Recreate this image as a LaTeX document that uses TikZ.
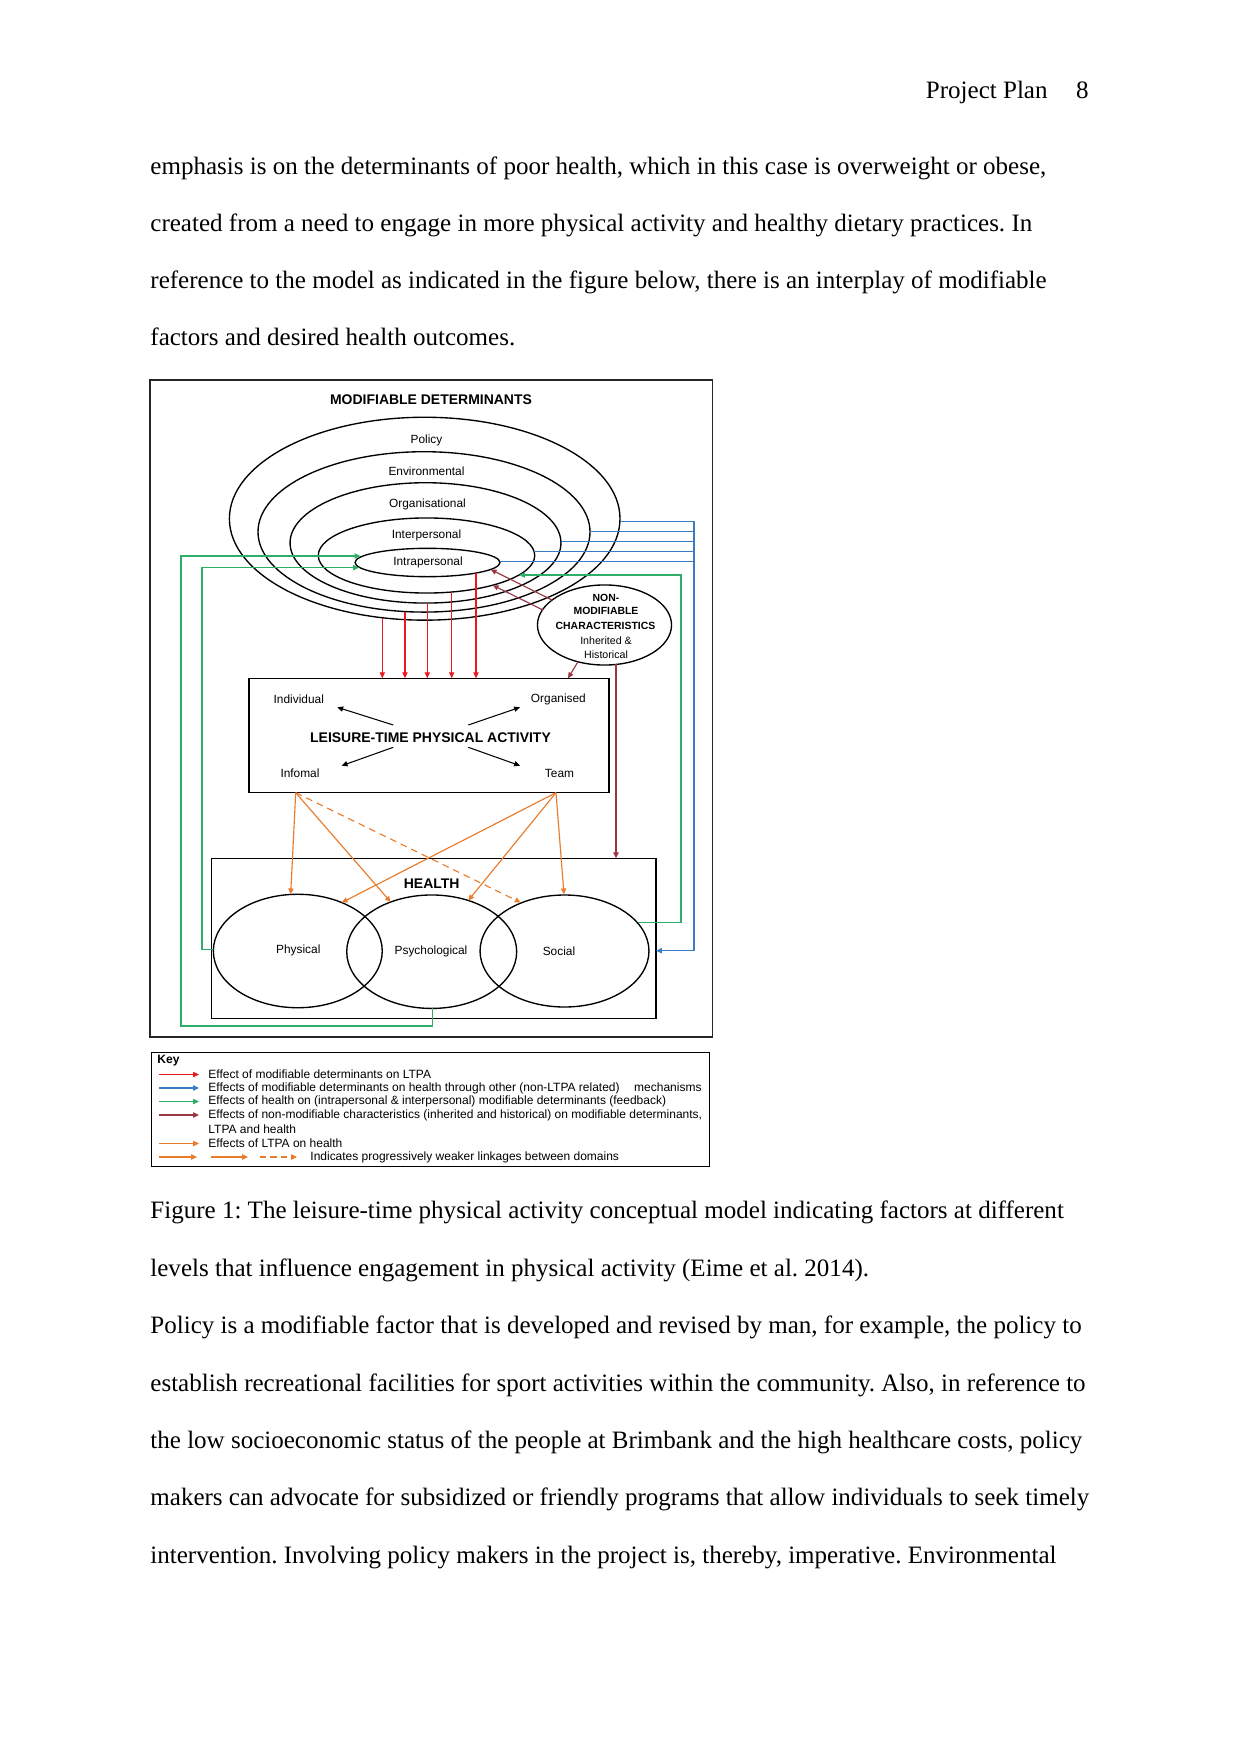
\documentclass[tikz,border=0pt]{standalone}
\usepackage{fontspec}
\setmainfont{Liberation Serif}
\newfontfamily\arial{Liberation Sans}
\usetikzlibrary{arrows.meta,shapes.geometric}
\definecolor{cred}{HTML}{E8191F}
\definecolor{cblue}{HTML}{3B7DC4}
\definecolor{cgreen}{HTML}{2EAE66}
\definecolor{cmaroon}{HTML}{993844}
\definecolor{corange}{HTML}{E97B2A}
\frenchspacing
\begin{document}
\begin{tikzpicture}[x=0.4795pt,y=-0.4795pt,
  bodytext/.style={anchor=base west,inner sep=0,font=\fontsize{12}{14}\selectfont},
  lbl/.style={inner sep=0,font=\arial\fontsize{5.7}{6.8}\selectfont},
  slbl/.style={inner sep=0,font=\arial\fontsize{5.1}{6}\selectfont},
  sblbl/.style={inner sep=0,font=\arial\bfseries\fontsize{5.0}{6}\selectfont},
  blbl/.style={inner sep=0,font=\arial\bfseries\fontsize{6.7}{8}\selectfont},
  keytext/.style={anchor=west,inner sep=0,font=\arial\fontsize{5.75}{6.5}\selectfont},
  ell/.style={draw=black,ellipse,inner sep=0,outer sep=0,line width=0.65pt},
  bx/.style={draw=black,rectangle,inner sep=0,outer sep=0,line width=0.7pt},
  tip/.style={-{Triangle[length=2.8pt,width=2.5pt]}},
  redarr/.style={tip,draw=cred,line width=0.5pt},
  bluearr/.style={draw=cblue,line width=0.55pt},
  greenarr/.style={draw=cgreen,line width=0.55pt},
  maroonarr/.style={draw=cmaroon,line width=0.55pt},
  orangearr/.style={tip,draw=corange,line width=0.55pt},
  blackarr/.style={tip,draw=black,line width=0.5pt}
]
\fill[white] (0,0) rectangle (1241,1754);
\useasboundingbox (0,0) rectangle (1241,1754);

% header and body text
\node[bodytext] (hdr) at (925.5,98.5) {Project Plan};
\node[bodytext,anchor=base east] (pg) at (1089,98.5) {8};
\node[bodytext] (t1) at (150,174.3) {emphasis is on the determinants of poor health, which in this case is overweight or obese,};
\node[bodytext] (t2) at (150,231.3) {created from a need to engage in more physical activity and healthy dietary practices. In};
\node[bodytext] (t3) at (150,288.3) {reference to the model as indicated in the figure below, there is an interplay of modifiable};
\node[bodytext] (t4) at (150,345.3) {factors and desired health outcomes.};
\node[bodytext] (c1) at (150,1218.7) {Figure 1: The leisure-time physical activity conceptual model indicating factors at different};
\node[bodytext] (c2) at (150,1276.7) {levels that influence engagement in physical activity (Eime et al. 2014).};
\node[bodytext] (p1) at (150,1333.5) {Policy is a modifiable factor that is developed and revised by man, for example, the policy to};
\node[bodytext] (p2) at (150,1391.5) {establish recreational facilities for sport activities within the community. Also, in reference to};
\node[bodytext] (p3) at (150,1448.5) {the low socioeconomic status of the people at Brimbank and the high healthcare costs, policy};
\node[bodytext] (p4) at (150,1505.5) {makers can advocate for subsidized or friendly programs that allow individuals to seek timely};
\node[bodytext] (p5) at (150,1563.5) {intervention. Involving policy makers in the project is, thereby, imperative. Environmental};

% outer figure box
\node[bx,draw=black!85,line width=0.8pt,minimum width=269.7pt,minimum height=314.9pt] (fig) at (431.25,708.35) {};
\node[blbl] (title) at (431,400) {MODIFIABLE DETERMINANTS};

% nested ellipses
\node[ell,minimum width=187.3pt,minimum height=97.3pt] (policy) at (424.7,518.7) {};
\node[ell,minimum width=159.2pt,minimum height=76.9pt] (env) at (424,531.9) {};
\node[ell,minimum width=129.9pt,minimum height=57.7pt] (org) at (425.5,542.9) {};
\node[ell,minimum width=103.8pt,minimum height=36.0pt] (inter) at (426.5,555.5) {};
\node[ell,minimum width=69.5pt,minimum height=13.6pt] (intra) at (427.5,562.5) {};
\node[lbl] (lpolicy) at (426.5,440) {Policy};
\node[lbl] (lenv) at (426.5,471.5) {Environmental};
\node[lbl] (lorg) at (427.5,504.5) {Organisational};
\node[lbl] (linter) at (426.5,535.5) {Interpersonal};
\node[lbl] (lintra) at (428,562) {Intrapersonal};

% non-modifiable ellipse
\node[ell,minimum width=64.3pt,minimum height=38.4pt] (nonmod) at (604.5,625) {};
\node[sblbl] at (606,597.7) {NON-};
\node[sblbl] at (606,611) {MODIFIABLE};
\node[sblbl] at (605.5,625.5) {CHARACTERISTICS};
\node[slbl] at (606,641) {Inherited \&};
\node[slbl] at (606,654.5) {Historical};

% LTPA box
\node[bx,minimum width=172.6pt,minimum height=54.9pt] (ltpa) at (429,735.5) {};
\node[blbl] (ltitle) at (430.5,737.5) {LEISURE-TIME PHYSICAL ACTIVITY};
\node[lbl] (indiv) at (298.8,699.5) {Individual};
\node[lbl] (organ) at (558.4,699.5) {Organised};
\node[lbl] (infor) at (300,773) {Infomal};
\node[lbl] (team) at (559.5,773) {Team};
\coordinate (la1) at (393.3,725); \coordinate (la1e) at (337.3,707.3);
\coordinate (la2) at (468.3,725); \coordinate (la2e) at (520,707.3);
\coordinate (la3) at (393.3,747.3); \coordinate (la3e) at (341.7,765.7);
\coordinate (la4) at (468.3,747.3); \coordinate (la4e) at (520,765.7);
\draw[blackarr] (la1) -- (la1e);
\draw[blackarr] (la2) -- (la2e);
\draw[blackarr] (la3) -- (la3e);
\draw[blackarr] (la4) -- (la4e);

% health box
\node[bx,minimum width=213.1pt,minimum height=76.7pt] (health) at (433.75,938.3) {};
\node[blbl] (lhealth) at (431.7,884) {HEALTH};
\node[ell,minimum width=81.0pt,minimum height=54.4pt] (phys) at (297.8,951) {};
\node[ell,minimum width=81.5pt,minimum height=54.4pt] (psych) at (431.7,951.7) {};
\node[ell,minimum width=81.0pt,minimum height=53.7pt] (social) at (564.5,951) {};
\node[lbl] (lphys) at (298.3,950.7) {Physical};
\node[lbl] (lpsych) at (431,951.7) {Psychological};
\node[lbl] (lsocial) at (559,951.7) {Social};

% red arrows: modifiable determinants -> LTPA
\coordinate (r1) at (382.3,617.6);
\coordinate (r2) at (405,611.6);
\coordinate (r3) at (427.3,603.1);
\coordinate (r4) at (451.7,592);
\coordinate (r5) at (476,573);
\foreach \r in {r1,r2,r3,r4,r5} \draw[redarr] (\r) -- (\r |- ltpa.north);

% blue lines: determinants -> health
\coordinate (b1) at (620,521.7);
\coordinate (b2) at (590,531.7);
\coordinate (b3) at (561,541.7);
\coordinate (b4) at (534.1,551.7);
\coordinate (b5) at (500,561.7);
\coordinate (bv) at (694,521.7);
\coordinate (bb) at (694,950.7);
\draw[bluearr,tip] (b1) -- (bv) -- (bb) -- (bb -| health.east);
\foreach \b in {b2,b3,b4,b5} \draw[bluearr] (\b) -- (\b -| bv);

% green feedback lines
\coordinate (g1t) at (360.5,556);
\coordinate (g2t) at (359,567.7);
\coordinate (g3t) at (519,575);
\coordinate (gpsy) at (432.7,1008.3);
\coordinate (gphy) at (213.3,949.3);
\coordinate (gsoc) at (638,922.5);
\draw[greenarr,tip] (gpsy) -- (432.7,1026) -- (181,1026) -- (181,556) -- (g1t);
\draw[greenarr,tip] (gphy) -- (202,949.3) -- (202,567.7) -- (g2t);
\draw[greenarr,tip] (gsoc) -- (681,922.5) -- (681,575) -- (g3t);

% maroon lines: non-modifiable characteristics
\coordinate (m1s) at (552,600); \coordinate (m1e) at (490.7,569.5);
\coordinate (m2s) at (543,610); \coordinate (m2e) at (492.7,585.2);
\coordinate (m3s) at (578,661.7); \coordinate (m3e) at (568,678.3);
\coordinate (m4s) at (616,664.4);
\draw[maroonarr,tip] (m1s) -- (m1e);
\draw[maroonarr,tip] (m2s) -- (m2e);
\draw[maroonarr,tip] (m3s) -- (m3e);
\draw[maroonarr,tip] (m4s) -- (m4s |- health.north);

% orange arrows: LTPA -> health
\coordinate (oL) at (295.7,792.7);
\coordinate (oR) at (556,792.7);
\coordinate (oph1) at (290.7,894.3);
\coordinate (ops1) at (390.7,902);
\coordinate (oso1) at (520.7,902.5);
\coordinate (oph2) at (341.7,902.6);
\coordinate (ops2) at (468.3,900.5);
\coordinate (oso2) at (564,894.3);
\draw[orangearr] (oL) -- (oph1);
\draw[orangearr] (oL) -- (ops1);
\draw[orangearr,dash pattern=on 3.2pt off 2.4pt] (oL) -- (oso1);
\draw[orangearr] (oR) -- (oph2);
\draw[orangearr] (oR) -- (ops2);
\draw[orangearr] (oR) -- (oso2);

% key
\node[bx,minimum width=267.6pt,minimum height=54.7pt] (key) at (430.5,1109.5) {};
\node[anchor=west,inner sep=0,font=\arial\bfseries\fontsize{5.8}{7}\selectfont] (keyh) at (157,1061) {Key};
\coordinate (k1) at (159,1074.5); \coordinate (k1e) at (199,1074.5);
\coordinate (k2) at (159,1088); \coordinate (k2e) at (199,1088);
\coordinate (k3) at (159,1101.5); \coordinate (k3e) at (199,1101.5);
\coordinate (k4) at (159,1115); \coordinate (k4e) at (199,1115);
\coordinate (k5) at (159,1143.5); \coordinate (k5e) at (199,1143.5);
\coordinate (k6a) at (159,1157); \coordinate (k6ae) at (197,1157);
\coordinate (k6b) at (211,1157); \coordinate (k6be) at (248,1157);
\coordinate (k6c) at (260,1157); \coordinate (k6ce) at (297,1157);
\draw[redarr] (k1) -- (k1e);
\draw[bluearr,tip] (k2) -- (k2e);
\draw[greenarr,tip] (k3) -- (k3e);
\draw[maroonarr,tip] (k4) -- (k4e);
\draw[orangearr] (k5) -- (k5e);
\draw[orangearr] (k6a) -- (k6ae);
\draw[orangearr] (k6b) -- (k6be);
\draw[orangearr,dash pattern=on 3pt off 2pt] (k6c) -- (k6ce);
\node[keytext] at (208,1074.5) {Effect of modifiable determinants on LTPA};
\node[keytext] at (208,1088) {Effects of modifiable determinants on health through other (non-LTPA related)\hspace{7pt}mechanisms};
\node[keytext] at (208,1101.5) {Effects of health on (intrapersonal \& interpersonal) modifiable determinants (feedback)};
\node[keytext] at (208,1115) {Effects of non-modifiable characteristics (inherited and historical) on modifiable determinants,};
\node[keytext] at (208,1129.5) {LTPA and health};
\node[keytext] at (208,1143.5) {Effects of LTPA on health};
\node[keytext] at (310,1157) {Indicates progressively weaker linkages between domains};
\end{tikzpicture}
\end{document}
